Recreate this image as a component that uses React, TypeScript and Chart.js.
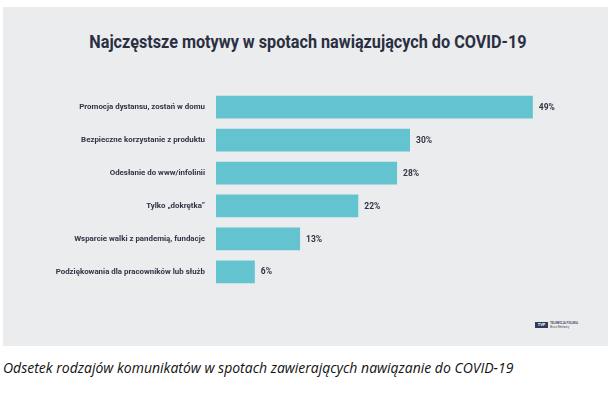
import React, { useEffect, useRef } from "react";
import { Chart, registerables } from "chart.js";

Chart.register(...registerables);

const categories = [
  "Promocja dystansu, zostań w domu",
  "Bezpieczne korzystanie z produktu",
  "Odesłanie do www/infolinii",
  "Tylko „dokrętka”",
  "Wsparcie walki z pandemią, fundacje",
  "Podziękowania dla pracowników lub służb",
];
const values = [49, 30, 28, 22, 13, 6];
const valueLabels = ["49%", "30%", "28%", "22%", "13%", "6%"];

const titleText = "Najczęstsze motywy w spotach nawiązujących do COVID-19";
const captionText =
  "Odsetek rodzajów komunikatów w spotach zawierających nawiązanie do COVID-19";

const TEXT = "#2f3446";
const BAR = "#63c4cf";
const PANEL = "#ebeced";

export default function App() {
  const ref = useRef<HTMLCanvasElement | null>(null);

  useEffect(() => {
    document.body.style.margin = "0";
    const canvas = ref.current;
    if (!canvas) return;
    const valuePlugin = {
      id: "valueLabels",
      afterDatasetsDraw(chart: any) {
        const ctx = chart.ctx;
        const meta = chart.getDatasetMeta(0);
        ctx.save();
        ctx.font = "bold 8.5px Roboto";
        ctx.fillStyle = TEXT;
        ctx.textAlign = "left";
        ctx.textBaseline = "middle";
        meta.data.forEach((bar: any, i: number) => {
          ctx.fillText(valueLabels[i], bar.x + 6, bar.y + 0.5);
        });
        ctx.restore();
      },
    };
    const chart = new Chart(canvas, {
      type: "bar",
      data: {
        labels: categories,
        datasets: [
          {
            data: values,
            backgroundColor: BAR,
            borderWidth: 0,
            categoryPercentage: 1,
            barPercentage: 0.69,
          },
        ],
      },
      options: {
        indexAxis: "y",
        responsive: false,
        animation: false,
        maintainAspectRatio: false,
        layout: { padding: { left: 0, right: 4, top: 0, bottom: 0 } },
        plugins: {
          legend: { display: false },
          tooltip: { enabled: false },
        },
        scales: {
          x: {
            display: false,
            min: 0,
            max: 60,
          },
          y: {
            grid: { display: false, drawBorder: false },
            border: { display: false },
            ticks: {
              color: TEXT,
              font: { family: "Roboto", weight: "bold", size: 7.9 },
              padding: 3,
            },
            afterFit(scale: any) {
              scale.width = 213;
            },
          },
        },
      },
      plugins: [valuePlugin],
    } as any);
    return () => chart.destroy();
  }, []);

  return (
    <div
      style={{
        position: "fixed",
        left: 0,
        top: 0,
        width: 615,
        height: 399,
        background: "#ffffff",
        overflow: "hidden",
      }}
    >
      <div
        style={{
          position: "absolute",
          left: 3,
          top: 7,
          width: 605,
          height: 339,
          background: PANEL,
        }}
      />
      <div
        style={{
          position: "absolute",
          left: 0,
          top: 29,
          width: 615,
          textAlign: "center",
          fontFamily: "Roboto",
          fontWeight: 700,
          fontSize: 18,
          lineHeight: "26px",
          color: "#2a2f42",
          whiteSpace: "nowrap",
        }}
      >
        <span style={{ display: "inline-block", transform: "scaleX(0.9)" }}>
          {titleText}
        </span>
      </div>
      <canvas
        ref={ref}
        width={605}
        height={213}
        style={{ position: "absolute", left: 3, top: 83, width: 605, height: 213 }}
      />
      <div
        style={{
          position: "absolute",
          left: 535,
          top: 322,
          width: 13,
          height: 6,
          background: "#2e3b5c",
          color: "#ffffff",
          fontFamily: "Roboto",
          fontWeight: 700,
          fontSize: 4,
          lineHeight: "6px",
          textAlign: "center",
        }}
      >
        TVP
      </div>
      <div
        style={{
          position: "absolute",
          left: 550,
          top: 321,
          fontFamily: "Roboto",
          fontSize: 3,
          lineHeight: "4px",
          color: "#4a5068",
          whiteSpace: "nowrap",
        }}
      >
        <div style={{ fontWeight: 700 }}>TELEWIZJA POLSKA</div>
        <div>Biuro Reklamy</div>
      </div>
      <div
        style={{
          position: "absolute",
          left: 3,
          top: 358,
          fontFamily: "'Open Sans'",
          fontStyle: "italic",
          fontSize: 14,
          lineHeight: "19px",
          color: "#111111",
          whiteSpace: "nowrap",
        }}
      >
        {captionText}
      </div>
    </div>
  );
}
